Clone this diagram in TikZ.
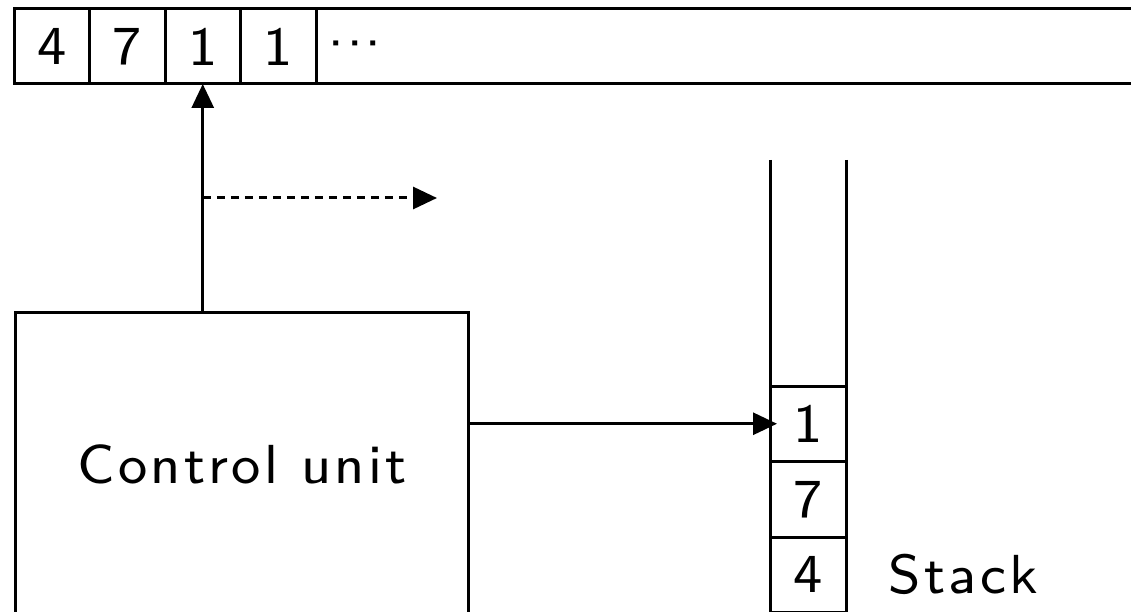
\documentclass[tikz,border=0pt]{standalone}
\usepackage{fontspec}
\newfontfamily\lmseight[LetterSpace=6]{lmsans8-regular.otf}
\usetikzlibrary{arrows.meta}
\begin{document}
\begin{tikzpicture}[x=1pt,y=-1pt,line width=3pt,
  txt/.style={font=\lmseight\fontsize{55}{60}\selectfont},
  cell/.style={draw,txt,minimum width=75.5pt,minimum height=75pt,inner sep=0pt,outer sep=0pt,anchor=north west},
  scell/.style={cell,minimum width=76pt,minimum height=75.5pt},
  arr/.style={-{Triangle[length=24pt,width=22pt]}},
  dsh/.style={arr,dash pattern=on 8pt off 6pt}]
\useasboundingbox (0,0) rectangle (1131,612);
\clip (0,0) rectangle (1131,612);
% tape
\node[cell] (t1) at (14,9) {4};
\node[cell] (t2) at (t1.north east) {7};
\node[cell] (t3) at (t2.north east) {1};
\node[cell] (t4) at (t3.north east) {1};
\node[cell,minimum width=900pt,text width=900pt,align=left] (t5) at (t4.north east) {\vphantom{1}\hspace{11pt}\raisebox{3pt}{\makebox[18.5pt]{·}\makebox[18.5pt]{·}\makebox[18.5pt]{·}}};
% control unit
\node[draw,txt,minimum width=453pt,minimum height=303pt,inner sep=0pt,anchor=north west] (cu) at (14,311) {Control unit};
% stack
\node[scell] (s1) at (770,386) {1};
\node[scell] (s2) at (s1.south west) {7};
\node[scell] (s3) at (s2.south west) {4};
\coordinate (lt) at (770,160);
\coordinate (rt) at (846,160);
\draw (lt) -- (s1.north west);
\draw (rt) -- (s1.north east);
\node[txt,anchor=west,inner sep=0pt] (lbl) at (887,574.5) {Stack};
% connectors
\draw[arr] (t3.south |- cu.north) -- (t3.south);
\coordinate (ds) at (t3.south |- 0,198);
\coordinate (de) at (437,198);
\draw[dsh] (ds) -- (de);
\coordinate (se) at ([xshift=7pt]s1.west);
\draw[arr] (s1.west -| cu.east) -- (se);
\end{tikzpicture}
\end{document}
